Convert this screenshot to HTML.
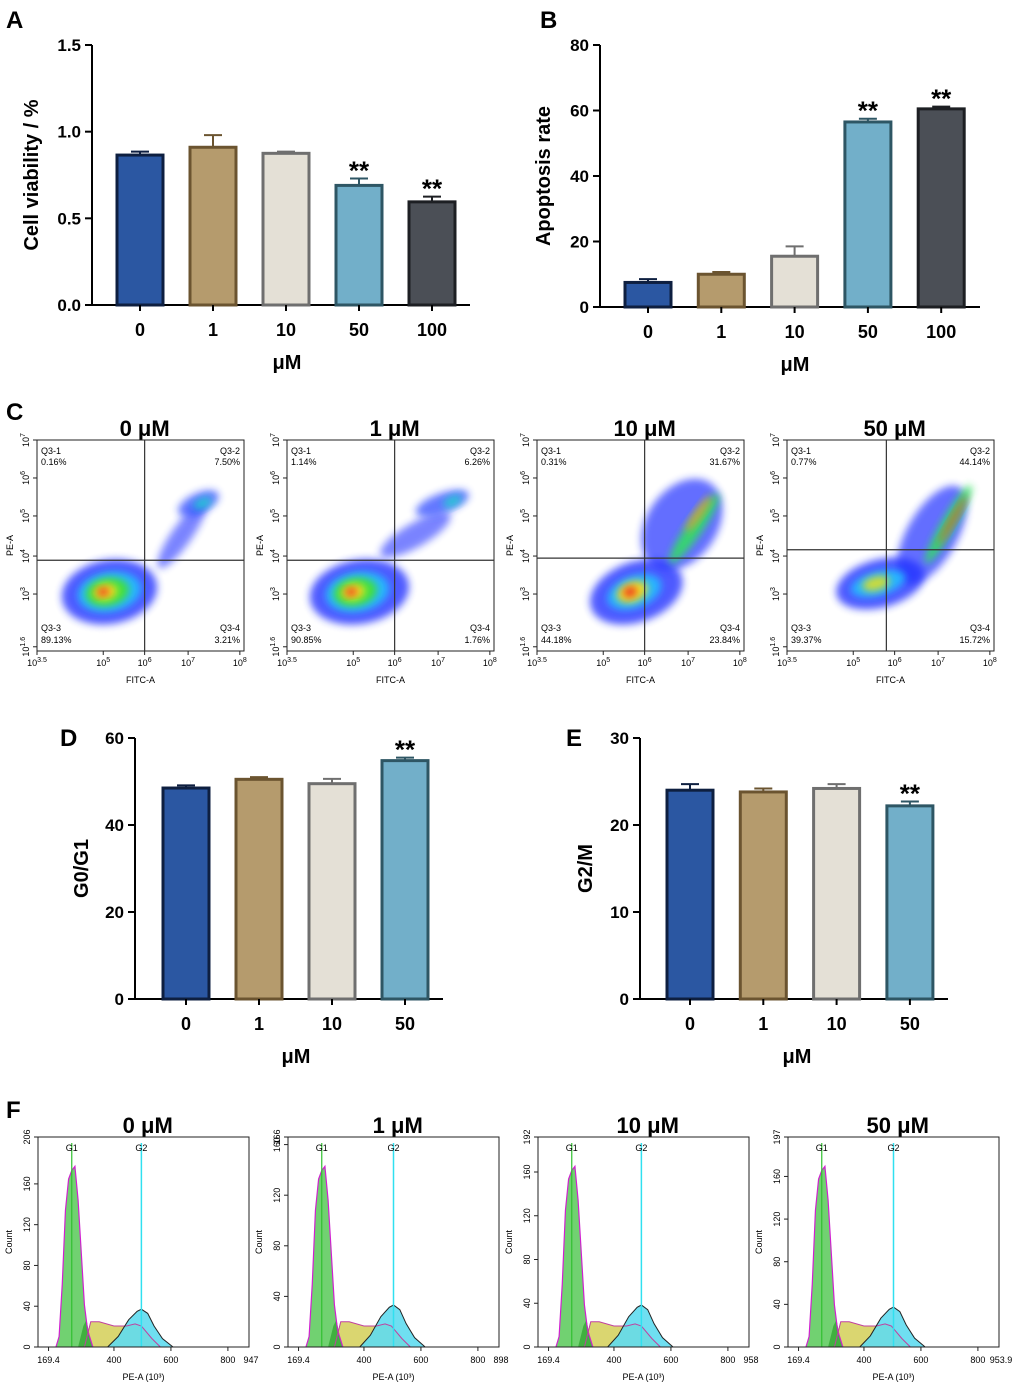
<!DOCTYPE html>
<html><head><meta charset="utf-8">
<style>
body{margin:0;background:#fff;}
svg{display:block;font-family:"Liberation Sans",Arial,sans-serif;}
</style></head>
<body>
<svg id="fig" width="1020" height="1390" viewBox="0 0 1020 1390" xmlns="http://www.w3.org/2000/svg">
<defs>
<filter id="blur4" x="-50%" y="-50%" width="200%" height="200%"><feGaussianBlur stdDeviation="4"/></filter>
</defs>
<g font-weight="bold" font-size="24" fill="#000">
<text x="6" y="28">A</text>
<text x="540" y="28">B</text>
<text x="6" y="420">C</text>
<text x="60" y="746">D</text>
<text x="566" y="746">E</text>
<text x="6" y="1118">F</text>
</g>
</svg>
<script>
// ---- Bar chart data ----
const catsAB = ["0","1","10","50","100"];
const viability = [0.865, 0.91, 0.875, 0.69, 0.595];
const viabilityErr = [0.02, 0.07, 0.01, 0.04, 0.03];
const viabilitySig = ["", "", "", "**", "**"];
const viabilityTicks = [0.0, 0.5, 1.0, 1.5];
const apoptosis = [7.5, 10, 15.5, 56.5, 60.5];
const apoptosisErr = [1, 0.7, 3, 1, 0.7];
const apoptosisSig = ["", "", "", "**", "**"];
const apoptosisTicks = [0, 20, 40, 60, 80];
const catsDE = ["0","1","10","50"];
const g0g1 = [48.5, 50.5, 49.5, 54.8];
const g0g1Err = [0.6, 0.5, 1.1, 0.7];
const g0g1Sig = ["", "", "", "**"];
const g0g1Ticks = [0, 20, 40, 60];
const g2m = [24.0, 23.8, 24.2, 22.2];
const g2mErr = [0.7, 0.4, 0.5, 0.5];
const g2mSig = ["", "", "", "**"];
const g2mTicks = [0, 10, 20, 30];
// ---- Flow data ----
const concLabels = ["0 μM","1 μM","10 μM","50 μM"];
const q1 = ["0.16%","1.14%","0.31%","0.77%"];
const q2 = ["7.50%","6.26%","31.67%","44.14%"];
const q3 = ["89.13%","90.85%","44.18%","39.37%"];
const q4 = ["3.21%","1.76%","23.84%","15.72%"];
const histYMax = ["206","166","192","197"];
const histXMax = ["947","898","958","953.9"];

const NS="http://www.w3.org/2000/svg";
const svg=document.getElementById('fig');
function el(tag,attrs,parent,text){const e=document.createElementNS(NS,tag);for(const k in attrs)e.setAttribute(k,attrs[k]);if(text!==undefined)e.textContent=text;(parent||svg).appendChild(e);return e;}

const fills=["#2b57a2","#b59b6d","#e4e0d6","#72afc9","#4b4f56"];
const strokes=["#0e1f40","#6b5430","#6f6f6f","#2e5664","#1d1f23"];

function barChart(o){
  const g=el('g',{});
  
  
  const y=v=>o.y0-(v-o.min)/(o.max-o.min)*(o.y0-o.y1);
  const x=i=>o.xc0+i*o.step;
  el('line',{x1:o.ax,y1:o.y1,x2:o.ax,y2:o.y0+1,stroke:'#000','stroke-width':2},g);
  el('line',{x1:o.ax-1,y1:o.y0,x2:o.axEnd,y2:o.y0,stroke:'#000','stroke-width':2},g);
  o.ticks.forEach(t=>{
    el('line',{x1:o.ax-7,y1:y(t),x2:o.ax,y2:y(t),stroke:'#000','stroke-width':2},g);
    const tl=el('text',{x:o.ax-11,y:y(t)+6,'text-anchor':'end','font-size':17,'font-weight':'bold'},g,o.tickFmt(t));
    
    
  });
  o.vals.forEach((v,i)=>{
    const cx=x(i),w=o.bw;
    el('line',{x1:cx,y1:y(v),x2:cx,y2:y(v+o.err[i]),stroke:strokes[i],'stroke-width':2},g);
    el('line',{x1:cx-9,y1:y(v+o.err[i]),x2:cx+9,y2:y(v+o.err[i]),stroke:strokes[i],'stroke-width':2},g);
    const r=el('rect',{x:cx-w/2,y:y(v),width:w,height:o.y0-y(v),fill:fills[i],stroke:strokes[i],'stroke-width':3},g);
    
    
    el('line',{x1:cx,y1:o.y0,x2:cx,y2:o.y0+6,stroke:'#000','stroke-width':2},g);
    const xl=el('text',{x:cx,y:o.y0+31,'text-anchor':'middle','font-size':18,'font-weight':'bold'},g,o.cats[i]);
    
    
    if(o.sig[i]){
      const s=el('text',{x:cx,y:y(v+o.err[i])+1,'text-anchor':'middle','font-size':26,'font-weight':'bold'},g,o.sig[i]);
      
      
    }
  });
  const xt=el('text',{x:o.xTitleX,y:o.y0+64,'text-anchor':'middle','font-size':20,'font-weight':'bold'},g,'μM');
  
  
  const yt=el('text',{x:0,y:0,'text-anchor':'middle','font-size':20,'font-weight':'bold',transform:`translate(${o.yTitleX},${(o.y0+o.y1)/2}) rotate(-90)`},g,o.ytitle);
  
  
}
barChart({name:'cell-viability-chart',cats:catsAB,vals:viability,err:viabilityErr,sig:viabilitySig,ticks:viabilityTicks,min:0,max:1.5,y0:305,y1:45,ax:92,axEnd:470,xc0:140,step:73,bw:46,tickFmt:t=>t.toFixed(1),ytitle:'Cell viability / %',yTitleX:38,xTitleX:287});
barChart({name:'apoptosis-rate-chart',cats:catsAB,vals:apoptosis,err:apoptosisErr,sig:apoptosisSig,ticks:apoptosisTicks,min:0,max:80,y0:307,y1:45,ax:600,axEnd:980,xc0:648,step:73.3,bw:46,tickFmt:t=>String(t),ytitle:'Apoptosis rate',yTitleX:550,xTitleX:795});
barChart({name:'g0-g1-chart',cats:catsDE,vals:g0g1,err:g0g1Err,sig:g0g1Sig,ticks:g0g1Ticks,min:0,max:60,y0:999,y1:738,ax:135,axEnd:443,xc0:186,step:73,bw:46,tickFmt:t=>String(t),ytitle:'G0/G1',yTitleX:88,xTitleX:296});
barChart({name:'g2-m-chart',cats:catsDE,vals:g2m,err:g2mErr,sig:g2mSig,ticks:g2mTicks,min:0,max:30,y0:999,y1:738,ax:640,axEnd:948,xc0:690,step:73.3,bw:46,tickFmt:t=>String(t),ytitle:'G2/M',yTitleX:592,xTitleX:797});

// ---- Flow cytometry scatter panels (C) ----
const cBoxX=[37,287,537,787], cBoxY=440, cW=207, cH=211;
const vLineF=[0.52,0.52,0.52,0.48], hLineF=[0.57,0.57,0.56,0.52];
const blobSets=[
 [[0.35,0.72,48,32,-10,'#2030ff',0.8],[0.7,0.45,10,40,35,'#2030ff',0.6],[0.78,0.3,22,10,-25,'#2040ff',0.7],[0.8,0.3,10,5,-25,'#20d0d0',0.9],[0.35,0.72,32,20,-10,'#20c0ff',0.9],[0.34,0.72,22,14,-10,'#40e040',1],[0.33,0.72,12,8,-10,'#f0e020',1],[0.32,0.72,6,4,-10,'#f03020',1]],
 [[0.35,0.72,50,32,-10,'#2030ff',0.8],[0.62,0.45,40,12,-30,'#2030ff',0.6],[0.75,0.3,28,10,-20,'#2040ff',0.7],[0.8,0.29,10,5,-25,'#20d0d0',0.9],[0.34,0.72,32,20,-10,'#20c0ff',0.9],[0.33,0.72,22,14,-10,'#40e040',1],[0.32,0.72,12,8,-10,'#f0e020',1],[0.31,0.72,6,4,-10,'#f03020',1]],
 [[0.48,0.72,48,30,-20,'#2030ff',0.8],[0.7,0.4,35,50,35,'#2030ff',0.7],[0.47,0.72,28,16,-20,'#20c0ff',0.9],[0.76,0.42,8,42,35,'#30e060',0.9],[0.46,0.72,16,10,-20,'#f0e020',1],[0.45,0.72,7,5,-20,'#f03020',1],[0.78,0.35,4,22,35,'#f0a020',0.8]],
 [[0.45,0.68,45,24,-15,'#2030ff',0.8],[0.7,0.45,25,55,30,'#2030ff',0.7],[0.44,0.68,28,12,-15,'#20c0ff',0.9],[0.78,0.4,7,45,30,'#30e060',0.9],[0.43,0.68,14,7,-15,'#e0e020',0.9],[0.8,0.38,3,28,30,'#f05020',0.8]]
];
const cXTicks=[["10","3.5",0],["10","5",0.32],["10","6",0.52],["10","7",0.73],["10","8",0.98]];
const cYTicks=[["10","7",0],["10","6",0.18],["10","5",0.36],["10","4",0.55],["10","3",0.73],["10","1.6",0.98]];
concLabels.forEach((lab,p)=>{
  const bx=cBoxX[p],by=cBoxY;
  const g=el('g',{});
  
  
  const t=el('text',{x:bx+cW*0.52,y:by-4,'text-anchor':'middle','font-size':22,'font-weight':'bold'},g,lab);
  
  
  const cl=el('clipPath',{id:'cc'+p},g);el('rect',{x:bx,y:by,width:cW,height:cH},cl);
  const bg=el('g',{'clip-path':`url(#cc${p})`},g);
  blobSets[p].forEach(b=>{
    el('ellipse',{cx:bx+b[0]*cW,cy:by+b[1]*cH,rx:b[2],ry:b[3],fill:b[5],opacity:b[6],transform:`rotate(${b[4]} ${bx+b[0]*cW} ${by+b[1]*cH})`,filter:'url(#blur4)'},bg);
  });
  el('rect',{x:bx,y:by,width:cW,height:cH,fill:'none',stroke:'#222','stroke-width':1},g);
  el('line',{x1:bx+vLineF[p]*cW,y1:by,x2:bx+vLineF[p]*cW,y2:by+cH,stroke:'#333','stroke-width':1.2},g);
  el('line',{x1:bx,y1:by+hLineF[p]*cH,x2:bx+cW,y2:by+hLineF[p]*cH,stroke:'#333','stroke-width':1.2},g);
  const fs=9;
  el('text',{x:bx+4,y:by+14,'font-size':fs},g,'Q3-1');
  el('text',{x:bx+4,y:by+25,'font-size':fs},g,q1[p]);
  el('text',{x:bx+cW-4,y:by+14,'font-size':fs,'text-anchor':'end'},g,'Q3-2');
  el('text',{x:bx+cW-4,y:by+25,'font-size':fs,'text-anchor':'end'},g,q2[p]);
  el('text',{x:bx+4,y:by+cH-20,'font-size':fs},g,'Q3-3');
  el('text',{x:bx+4,y:by+cH-8,'font-size':fs},g,q3[p]);
  el('text',{x:bx+cW-4,y:by+cH-20,'font-size':fs,'text-anchor':'end'},g,'Q3-4');
  el('text',{x:bx+cW-4,y:by+cH-8,'font-size':fs,'text-anchor':'end'},g,q4[p]);
  cXTicks.forEach(tk=>{
    const x=bx+tk[2]*cW;
    el('line',{x1:x,y1:by+cH,x2:x,y2:by+cH+4,stroke:'#222'},g);
    const tx=el('text',{x:x,y:by+cH+15,'font-size':9,'text-anchor':'middle'},g);
    el('tspan',{},tx,tk[0]);el('tspan',{dy:-4,'font-size':7},tx,tk[1]);
  });
  cYTicks.forEach(tk=>{
    const y=by+tk[2]*cH;
    el('line',{x1:bx-4,y1:y,x2:bx,y2:y,stroke:'#222'},g);
    const tx=el('text',{x:0,y:0,'font-size':9,'text-anchor':'middle',transform:`translate(${bx-8},${y}) rotate(-90)`},g);
    el('tspan',{},tx,tk[0]);el('tspan',{dy:-4,'font-size':7},tx,tk[1]);
  });
  el('text',{x:bx+cW/2,y:by+cH+32,'font-size':9,'text-anchor':'middle'},g,'FITC-A');
  el('text',{x:0,y:0,'font-size':9,'text-anchor':'middle',transform:`translate(${bx-24},${by+cH*0.5}) rotate(-90)`},g,'PE-A');
});

// ---- Cell cycle histograms (F) ----
const fBoxX=[38,288,538,788], fBoxY=1137, fW=211, fH=210;
const g1F=[0.16,0.16,0.16,0.16], g2F=[0.49,0.5,0.49,0.5];
const g2Height=[0.18,0.2,0.2,0.19];
const peakShape=[[-0.075,0],[-0.06,0.05],[-0.045,0.3],[-0.03,0.65],[-0.015,0.8],[0.0,0.84],[0.015,0.86],[0.03,0.7],[0.045,0.45],[0.06,0.2],[0.075,0.08],[0.1,0]];
const innerShape=[[0.03,0],[0.055,0.1],[0.07,0.13],[0.085,0.05],[0.1,0]];
const g2Shape=[[-0.16,0],[-0.11,0.05],[-0.06,0.13],[-0.02,0.17],[0,0.18],[0.03,0.16],[0.06,0.1],[0.1,0.04],[0.15,0]];
const sShape=[[0.06,0],[0.09,0.12],[0.13,0.12],[0.2,0.1],[0.26,0.1],[0.3,0.11],[0.33,0.1],[0.38,0.04],[0.42,0]];
const fXTicks=[["169.4",0.05],["400",0.36],["600",0.63],["800",0.9]];
const fYTicks=[0,40,80,120,160];
concLabels.forEach((lab,p)=>{
  const bx=fBoxX[p],by=fBoxY,y0=by+fH;
  const g=el('g',{});
  
  
  const t=el('text',{x:bx+fW*0.52,y:by-4,'text-anchor':'middle','font-size':22,'font-weight':'bold'},g,lab);
  
  
  const pts=(shape,cx,scaleH)=>shape.map(s=>`${bx+(cx+s[0])*fW},${y0-s[1]*fH*scaleH}`).join(' ');
  const gs=g2Height[p]/0.18;
  el('polygon',{points:pts(sShape,g1F[p],1),fill:'#d6d160',opacity:0.9},g);
  el('polygon',{points:pts(g2Shape,g2F[p],gs),fill:'#5fdcef',opacity:0.9},g);
  el('polygon',{points:pts(peakShape,g1F[p],1),fill:'#62cc62',opacity:0.9},g);
  el('polygon',{points:pts(innerShape,g1F[p],1),fill:'#3fb03f'},g);
  el('polyline',{points:pts(peakShape,g1F[p],1),fill:'none',stroke:'#d020d0','stroke-width':1.2},g);
  el('polyline',{points:pts(sShape,g1F[p],1),fill:'none',stroke:'#c040a0','stroke-width':1},g);
  el('polyline',{points:pts(g2Shape,g2F[p],gs),fill:'none',stroke:'#222','stroke-width':1},g);
  el('line',{x1:bx+g1F[p]*fW,y1:by+6,x2:bx+g1F[p]*fW,y2:y0,stroke:'#30c030','stroke-width':1.2},g);
  el('line',{x1:bx+g2F[p]*fW,y1:by+6,x2:bx+g2F[p]*fW,y2:y0,stroke:'#30e0f0','stroke-width':1.5},g);
  el('text',{x:bx+g1F[p]*fW,y:by+14,'font-size':9,'text-anchor':'middle'},g,'G1');
  el('text',{x:bx+g2F[p]*fW,y:by+14,'font-size':9,'text-anchor':'middle'},g,'G2');
  el('rect',{x:bx,y:by,width:fW,height:fH,fill:'none',stroke:'#222','stroke-width':1},g);
  fXTicks.forEach(tk=>{
    const x=bx+tk[1]*fW;
    el('line',{x1:x,y1:y0,x2:x,y2:y0+4,stroke:'#222'},g);
    el('text',{x:x,y:y0+16,'font-size':9,'text-anchor':'middle'},g,tk[0]);
  });
  el('text',{x:bx+fW+2,y:y0+16,'font-size':9,'text-anchor':'middle'},g,histXMax[p]);
  const ymax=parseFloat(histYMax[p]);
  fYTicks.concat([ymax]).forEach(v=>{
    const y=y0-v/ymax*fH;
    el('line',{x1:bx-4,y1:y,x2:bx,y2:y,stroke:'#222'},g);
    el('text',{x:0,y:0,'font-size':9,'text-anchor':'middle',transform:`translate(${bx-8},${y}) rotate(-90)`},g,v===ymax?histYMax[p]:String(v));
  });
  el('text',{x:bx+fW/2,y:y0+33,'font-size':9,'text-anchor':'middle'},g,'PE-A (10³)');
  el('text',{x:0,y:0,'font-size':9,'text-anchor':'middle',transform:`translate(${bx-26},${by+fH*0.5}) rotate(-90)`},g,'Count');
});
</script>
</body></html>
